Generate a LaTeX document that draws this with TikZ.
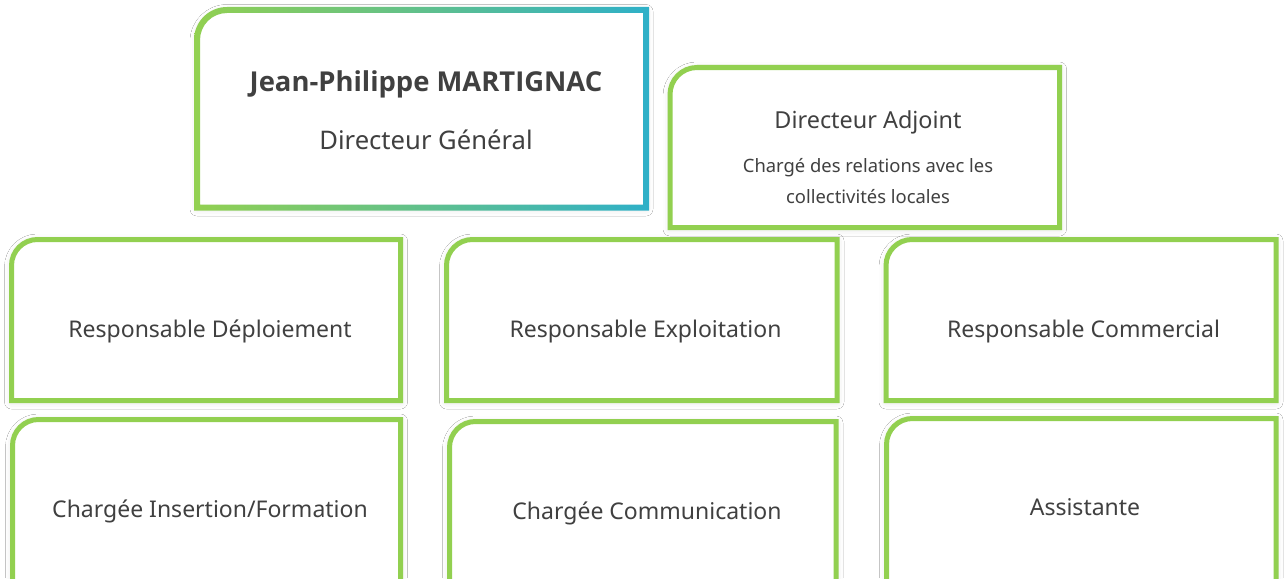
\documentclass[tikz,border=0pt]{standalone}
\usepackage{fontspec}
\setmainfont{Noto Sans}
\newfontfamily\namefont{Open Sans}
\usetikzlibrary{shadows.blur}
\definecolor{boxgreen}{HTML}{92D050}
\definecolor{boxteal}{HTML}{2EB0C8}
\definecolor{txt}{HTML}{404040}
\tikzset{
  soft/.style={blur shadow={shadow xshift=0pt, shadow yshift=-1.5pt, shadow blur radius=7pt, shadow opacity=12}},
  boxline/.style={draw=boxgreen, line width=5pt, fill=white, soft},
  lbl/.style={text=txt, font=\fontsize{23}{27}\selectfont, anchor=base, inner sep=0pt},
  adjlbl/.style={text=txt, font=\fontsize{23.4}{27}\selectfont, anchor=base, inner sep=0pt},
  bigname/.style={text=txt, font=\namefont\fontsize{27.4}{32}\selectfont\bfseries, anchor=base, inner sep=0pt},
  biglbl/.style={text=txt, font=\fontsize{25.6}{30}\selectfont, anchor=base, inner sep=0pt},
  smalllbl/.style={text=txt, font=\fontsize{18.4}{22}\selectfont, anchor=base, inner sep=0pt},
}
% #1 L, #2 T, #3 R, #4 B (pixels, y down), #5 radius
\newcommand\tabpath[5]{(#1,#4) -- (#1,#2+#5) arc[start angle=180,end angle=270,radius=#5] -- (#3,#2) -- (#3,#4) -- cycle}
\begin{document}
\begin{tikzpicture}[x=1pt,y=-1pt]
\path[use as bounding box, clip] (0,0) rectangle (1284,578);
\fill[white] (0,0) rectangle (1284,578);

% top box with gradient border
\path[fill=white, soft] \tabpath{197}{10}{646}{207.5}{30};
\shade[left color=boxgreen, right color=boxteal, even odd rule]
  \tabpath{194}{7}{649}{210.5}{33} \tabpath{200}{13}{643}{204.5}{27};

% other boxes
\path[boxline] \tabpath{670}{67.5}{1059.5}{227.5}{27};
\path[boxline] \tabpath{11.5}{239.5}{400.5}{400.5}{26};
\path[boxline] \tabpath{446.5}{239.5}{837}{400.5}{26};
\path[boxline] \tabpath{886}{239.5}{1276}{400.5}{26};
\path[boxline] \tabpath{12.5}{419.5}{400.5}{640}{26};
\path[boxline] \tabpath{449.5}{421.5}{836}{640}{26};
\path[boxline] \tabpath{886.5}{418.5}{1276}{640}{26};

% texts
\node[bigname] (dgname) at (426,92) {Jean-Philippe MARTIGNAC};
\node[biglbl] (dgrole) at (426,149) {Directeur Général};
\node[adjlbl] (da) at (868,128) {Directeur Adjoint};
\node[smalllbl] (da1) at (868,172) {Chargé des relations avec les};
\node[smalllbl] (da2) at (868,203) {collectivités locales};
\node[lbl] (rd) at (210,337) {Responsable Déploiement};
\node[lbl] (re) at (645.5,337) {Responsable Exploitation};
\node[lbl] (rc) at (1083.5,337) {Responsable Commercial};
\node[lbl] (ci) at (210,517) {Chargée Insertion/Formation};
\node[lbl] (cc) at (647,519) {Chargée Communication};
\node[lbl] (as) at (1085,515) {Assistante};
\end{tikzpicture}
\end{document}
